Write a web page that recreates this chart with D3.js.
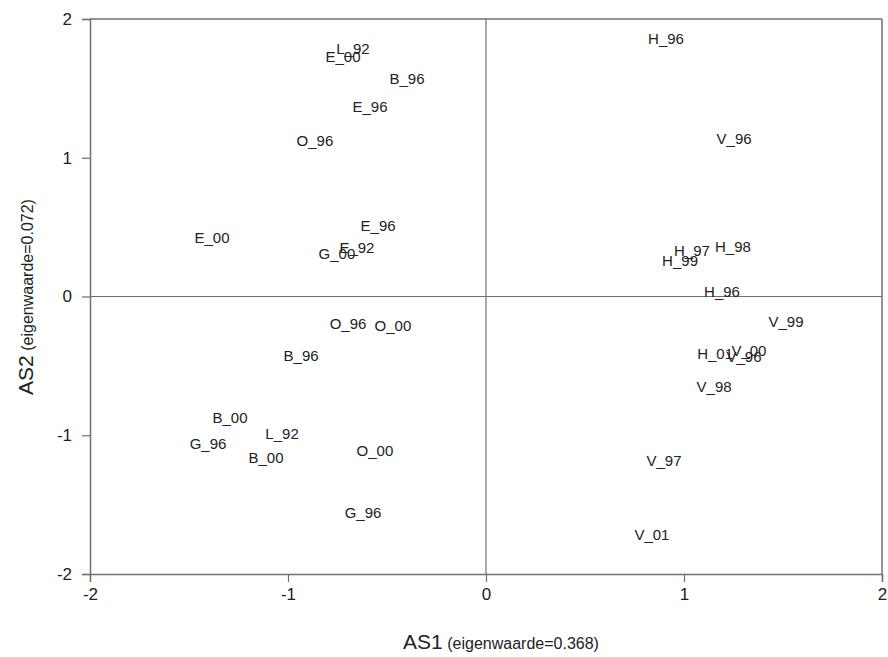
<!DOCTYPE html>
<html>
<head>
<meta charset="utf-8">
<script src="https://cdn.jsdelivr.net/npm/d3@7"></script>
<style>
  body { margin: 0; background: #fff; }
  text { font-family: "Liberation Sans", Arial, sans-serif; fill: #222; }
</style>
</head>
<body>
<div class="chart"></div>
<script>
// sample labels with their scores on the first two axes
var labels = ["L_92", "E_00", "B_96", "E_96", "O_96", "E_00", "E_96", "E_92", "G_00",
    "O_96", "O_00", "B_96", "B_00", "L_92", "G_96", "B_00", "O_00", "G_96",
    "H_96", "V_96", "H_98", "H_97", "H_99", "H_96", "V_99", "H_01", "V_00", "V_96", "V_98", "V_97", "V_01"];
var as1 = [-0.672, -0.722, -0.399, -0.586, -0.864, -1.384, -0.545, -0.652, -0.753,
    -0.697, -0.470, -0.934, -1.293, -1.030, -1.404, -1.111, -0.561, -0.621,
    0.909, 1.253, 1.247, 1.040, 0.980, 1.192, 1.515, 1.157, 1.328, 1.303, 1.152, 0.899, 0.838];
var as2 = [1.784, 1.726, 1.568, 1.366, 1.121, 0.422, 0.508, 0.350, 0.306,
    -0.198, -0.213, -0.429, -0.876, -0.991, -1.063, -1.164, -1.114, -1.560,
    1.856, 1.135, 0.357, 0.328, 0.256, 0.032, -0.184, -0.414, -0.393, -0.436, -0.652, -1.186, -1.719];
var tickValues = [-2, -1, 0, 1, 2];

var svgWidth = 888;
var svgHeight = 657;
var margin = { top: 19, right: 6, bottom: 83, left: 90 };
var width = svgWidth - margin.left - margin.right;
var height = svgHeight - margin.top - margin.bottom;
var lineColor = "#707070";

var svg = d3.select(".chart")
    .append("svg")
    .attr("width", svgWidth)
    .attr("height", svgHeight);

var chart = svg.append("g")
    .attr("transform", "translate(" + margin.left + "," + margin.top + ")");

var xScale = d3.scaleLinear().domain([-2, 2]).range([0, width]);
var yScale = d3.scaleLinear().domain([-2, 2]).range([height, 0]);

var bottomAxis = d3.axisBottom(xScale).tickValues(tickValues).tickSize(8).tickPadding(6)
    .tickFormat(function(d) { return String(d); });
var leftAxis = d3.axisLeft(yScale).tickValues(tickValues).tickSize(8).tickPadding(10)
    .tickFormat(function(d) { return String(d); });

// top and right frame lines
chart.append("line")
    .attr("x1", 0).attr("x2", width).attr("y1", 0).attr("y2", 0)
    .attr("stroke", lineColor).attr("stroke-width", 1.5);
chart.append("line")
    .attr("x1", width).attr("x2", width).attr("y1", 0).attr("y2", height)
    .attr("stroke", lineColor).attr("stroke-width", 1.5);

// zero lines
chart.append("line")
    .attr("x1", xScale(0)).attr("x2", xScale(0)).attr("y1", 0).attr("y2", height)
    .attr("stroke", lineColor).attr("stroke-width", 1.2);
chart.append("line")
    .attr("x1", 0).attr("x2", width).attr("y1", yScale(0)).attr("y2", yScale(0))
    .attr("stroke", lineColor).attr("stroke-width", 1.2);

var xAxisG = chart.append("g")
    .attr("class", "x-axis")
    .attr("transform", "translate(0," + height + ")")
    .call(bottomAxis);

var yAxisG = chart.append("g")
    .attr("class", "y-axis")
    .call(leftAxis);

[xAxisG, yAxisG].forEach(function(g) {
    g.select(".domain").attr("stroke", lineColor).attr("stroke-width", 1.5);
    g.selectAll(".tick line").attr("stroke", lineColor).attr("stroke-width", 1.2);
    g.selectAll(".tick text")
        .style("font-size", "17px")
        .style("font-family", "'Liberation Sans', Arial, sans-serif")
        .attr("fill", "#222");
});

// point labels
chart.selectAll(".abbr")
    .data(labels)
    .enter()
    .append("text")
    .attr("class", "abbr")
    .attr("x", function(d, i) { return xScale(as1[i]); })
    .attr("y", function(d, i) { return yScale(as2[i]); })
    .attr("dy", "0.36em")
    .attr("text-anchor", "middle")
    .style("font-size", "15px")
    .text(function(d) { return d; });

// axis titles
var xTitle = svg.append("text")
    .attr("x", 501)
    .attr("y", 649)
    .attr("text-anchor", "middle");
xTitle.append("tspan").style("font-size", "21px").text("AS1");
xTitle.append("tspan").style("font-size", "16px").text(" (eigenwaarde=0.368)");

var yTitle = svg.append("text")
    .attr("transform", "translate(33,297) rotate(-90)")
    .attr("text-anchor", "middle");
yTitle.append("tspan").style("font-size", "21px").text("AS2");
yTitle.append("tspan").style("font-size", "16px").text(" (eigenwaarde=0.072)");
</script>
</body>
</html>
